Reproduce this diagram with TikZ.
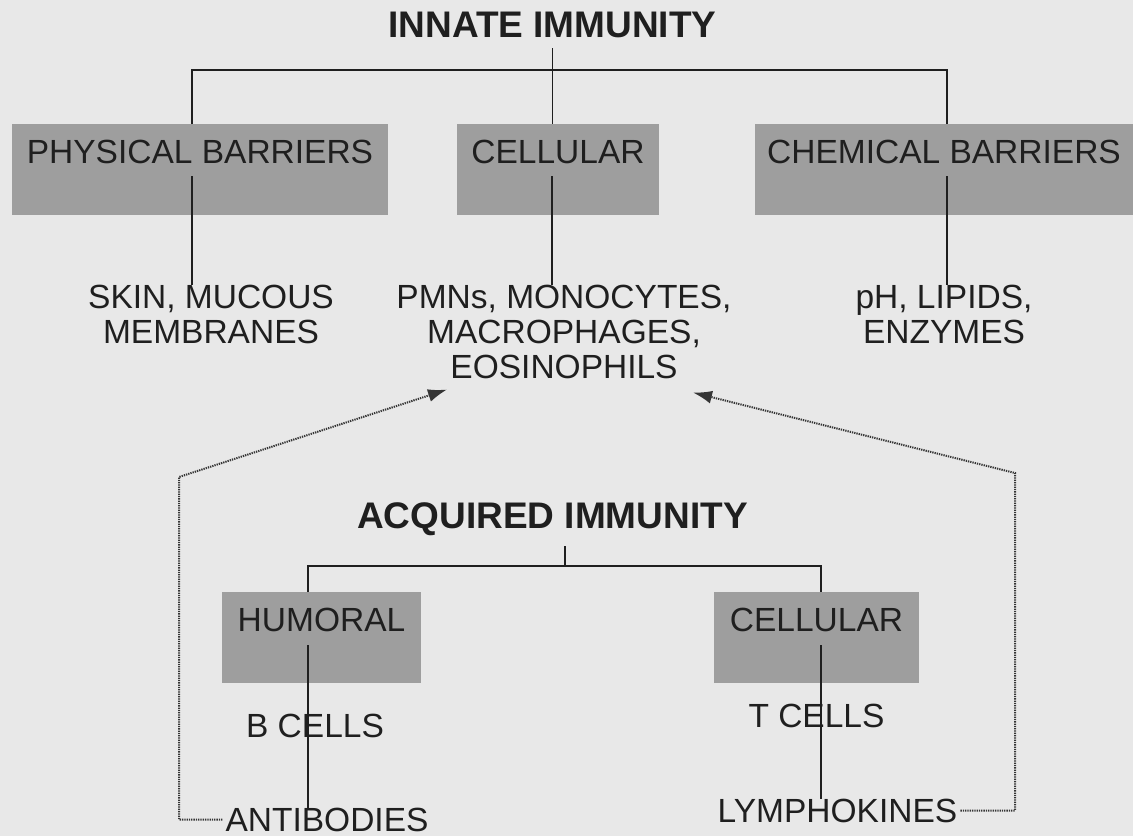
\documentclass[tikz,border=0pt]{standalone}
\usepackage{fontspec}
\setmainfont{Liberation Sans}
\usepackage{xcolor}
\usetikzlibrary{arrows.meta, positioning}
\definecolor{paper}{gray}{0.91}
\definecolor{boxgray}{gray}{0.62}
\definecolor{ink}{gray}{0.12}

\begin{document}
\begin{tikzpicture}[
        x=1pt, y=-1pt,
        title/.style={font=\fontsize{37}{40}\selectfont\bfseries, text=ink, inner sep=0pt, outer ysep=11pt, anchor=base},
        block/.style={rectangle, fill=boxgray, anchor=north, inner sep=0pt, text height=39pt, text depth=52pt, font=\fontsize{33.5}{35}\selectfont, text=ink},
        leaf/.style={align=center, inner sep=0pt, font=\fontsize{33.5}{35}\selectfont, text=ink},
        line/.style={draw=ink, line width=1.8pt},
        feedback/.style={draw=ink!90, line width=2pt, dash pattern=on 1.3pt off 1pt, shorten <=3pt, -{Latex[length=19pt, width=13pt]}}
    ]
        \useasboundingbox (0,0) rectangle (1133,836);
        \fill[paper] (0,0) rectangle (1133,836);

        \node [title] (innate) at (552.5,37) {INNATE IMMUNITY};
        \node [block, minimum width=376pt] (phys) at (200,124) {PHYSICAL BARRIERS};
        \node [block, minimum width=202pt] (icell) at (558,124) {CELLULAR};
        \node [block, minimum width=378pt] (chem) at (944,124) {CHEMICAL BARRIERS};
        \node [leaf, below=70pt of phys, xshift=11pt] (skin) {SKIN, MUCOUS\\MEMBRANES};
        \node [leaf, below=70pt of icell, xshift=6pt] (pmn) {PMNs, MONOCYTES,\\MACROPHAGES,\\EOSINOPHILS};
        \node [leaf, below=70pt of chem] (lipid) {pH, LIPIDS,\\ENZYMES};

        \node [title] (acquired) at (552.5,528) {ACQUIRED IMMUNITY};
        \node [block, minimum width=199pt, minimum height=91pt] (humoral) at (321.5,592) {HUMORAL};
        \node [block, minimum width=205pt, minimum height=91pt] (acell) at (816.5,592) {CELLULAR};
        \node [leaf, below=30pt of humoral, xshift=-6.5pt] (bcell) {B CELLS};
        \node [leaf, below=70pt of bcell, xshift=12pt] (antib) {ANTIBODIES};
        \node [leaf, below=20pt of acell] (tcell) {T CELLS};
        \node [leaf, below=71pt of tcell, xshift=21pt] (lympho) {LYMPHOKINES};

        \draw [line] (innate.south) -- ++(0,22) coordinate (ibar);
        \draw [line] ([xshift=-8pt]phys.north) |- (ibar) -| ([xshift=3pt]chem.north);
        \draw [line] (ibar) -- (ibar |- icell.north);
        \draw [line] ([xshift=-8pt,yshift=-13pt]phys.base) -- ([xshift=-8pt]phys.base |- skin.north);
        \draw [line] ([xshift=-6pt,yshift=-13pt]icell.base) -- ([xshift=-6pt]icell.base |- pmn.north);
        \draw [line] ([xshift=3pt,yshift=-13pt]chem.base) -- ([xshift=3pt]chem.base |- lipid.north);

        \draw [line] ([xshift=12.5pt]acquired.south) -- ++(0,20) coordinate (abar);
        \draw [line] ([xshift=-13.5pt]humoral.north) |- (abar) -| ([xshift=4.5pt]acell.north);
        \draw [line] ([xshift=-13.5pt,yshift=-14pt]humoral.base) -- ([xshift=-13.5pt]humoral.base |- antib.north);
        \draw [line] ([xshift=4.5pt,yshift=-14pt]acell.base) -- ([xshift=4.5pt]acell.base |- lympho.north);

        % products of acquired immunity feed back to the innate cells
        \coordinate (lcorner) at (179,477);
        \coordinate (rcorner) at (1015,473);
        \coordinate [below left=10pt and 117pt of pmn.south] (ltip);
        \coordinate [below right=13pt and 129pt of pmn.south] (rtip);
        \draw [feedback] (antib.west) -| (lcorner) -- (ltip);
        \draw [feedback] (lympho.east) -| (rcorner) -- (rtip);
    \end{tikzpicture}
\end{document}
